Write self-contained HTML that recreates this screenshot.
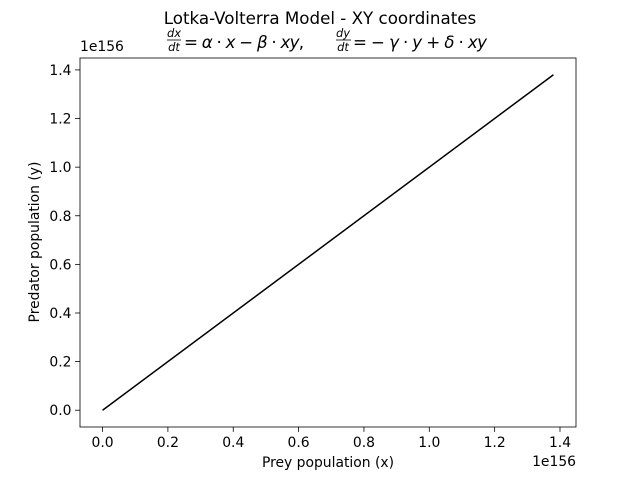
<!DOCTYPE html>
<html><head><meta charset="utf-8"><style>
body{margin:0;background:#fff}
svg text{font-family:"DejaVu Sans","Liberation Sans",sans-serif;fill:#000}
</style></head><body>
<svg width="640" height="480" xmlns="http://www.w3.org/2000/svg">
<rect width="640" height="480" fill="#fff"/>
<text x="320" y="24" font-size="16.7" text-anchor="middle">Lotka-Volterra Model - XY coordinates</text>
<g font-style="italic">
<text x="174" y="37" font-size="11.5" text-anchor="middle">dx</text>
<line x1="167" y1="40" x2="181" y2="40" stroke="#000" stroke-width="0.8"/>
<text x="174" y="51" font-size="11.5" text-anchor="middle">dt</text>
<text x="184" y="48" font-size="16.7" font-style="normal" textLength="120">= <tspan font-style="italic">α</tspan> · <tspan font-style="italic">x</tspan> − <tspan font-style="italic">β</tspan> · <tspan font-style="italic">xy</tspan>,</text>
<text x="343" y="37" font-size="11.5" text-anchor="middle">dy</text>
<line x1="336" y1="40" x2="351" y2="40" stroke="#000" stroke-width="0.8"/>
<text x="343" y="51" font-size="11.5" text-anchor="middle">dt</text>
<text x="353" y="48" font-size="16.7" font-style="normal" textLength="134">= − <tspan font-style="italic">γ</tspan> · <tspan font-style="italic">y</tspan> + <tspan font-style="italic">δ</tspan> · <tspan font-style="italic">xy</tspan></text>
</g>
<g id="plot"></g>
</svg>
<script>
const xs=[0,1.38];
const ys=[0,1.38];
const xTicks=["0.0","0.2","0.4","0.6","0.8","1.0","1.2","1.4"];
const yTicks=["0.0","0.2","0.4","0.6","0.8","1.0","1.2","1.4"];
const L=80,R=576,T=58,B=427,xmin=-0.069,xmax=1.449,ymin=-0.069,ymax=1.449;
const sx=v=>L+(v-xmin)/(xmax-xmin)*(R-L);
const sy=v=>B-(v-ymin)/(ymax-ymin)*(B-T);
const g=document.getElementById('plot');const NS="http://www.w3.org/2000/svg";
function el(t,a){const e=document.createElementNS(NS,t);for(const k in a)e.setAttribute(k,a[k]);g.appendChild(e);return e;}
const frame=el('rect',{x:L,y:T,width:R-L,height:B-T,fill:'none',stroke:'#000','stroke-width':0.8});


xTicks.forEach(t=>{const v=parseFloat(t),x=sx(v);
const l=el('line',{x1:x,y1:B,x2:x,y2:B+4.9,stroke:'#000','stroke-width':0.8});


const tx=el('text',{x:x,y:B+20,'font-size':13.9,'text-anchor':'middle'});tx.textContent=t;

});
yTicks.forEach(t=>{const v=parseFloat(t),y=sy(v);
const l=el('line',{x1:L-4.9,y1:y,x2:L,y2:y,stroke:'#000','stroke-width':0.8});


const tx=el('text',{x:L-8.5,y:y+5,'font-size':13.9,'text-anchor':'end'});tx.textContent=t;

});
const p=el('polyline',{points:xs.map((x,i)=>sx(x)+','+sy(ys[i])).join(' '),fill:'none',stroke:'#000','stroke-width':1.5});


const o1=el('text',{x:576,y:466,'font-size':13.9,'text-anchor':'end'});o1.textContent='1e156';


const o2=el('text',{x:80,y:51,'font-size':13.9,'text-anchor':'start'});o2.textContent='1e156';


const xl=el('text',{x:328,y:467,'font-size':13.9,'text-anchor':'middle'});xl.textContent='Prey population (x)';


const yl=el('text',{x:39,y:242,'font-size':13.9,'text-anchor':'middle',transform:'rotate(-90 39 242)'});yl.textContent='Predator population (y)';


</script>
</body></html>
